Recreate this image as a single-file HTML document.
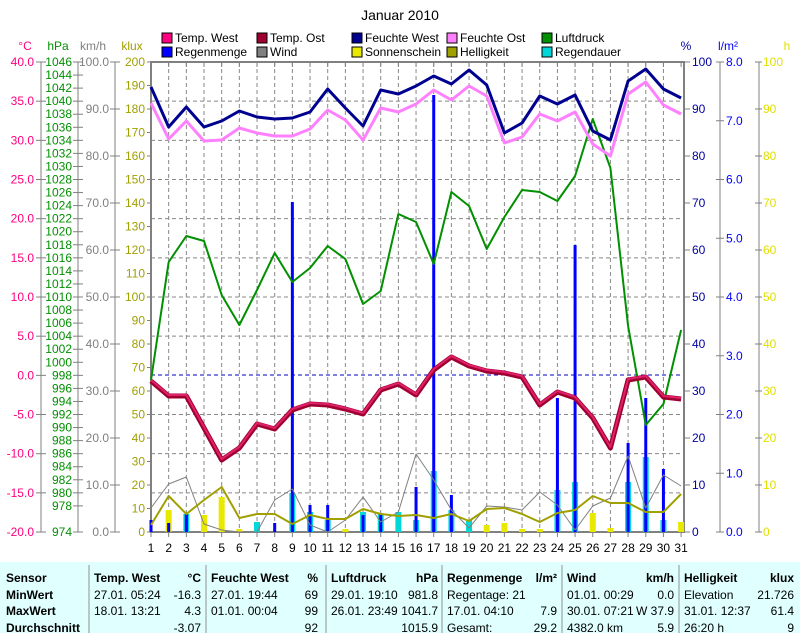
<!DOCTYPE html>
<html><head><meta charset="utf-8">
<style>
html,body{margin:0;padding:0;background:#fff;width:800px;height:633px;overflow:hidden}
svg{display:block;font-family:"Liberation Sans",sans-serif}
</style></head><body>
<svg id="s" width="800" height="633" xmlns="http://www.w3.org/2000/svg"></svg>
<script>
const S=document.getElementById('s');let h='';
const X=d=>151+(d-1)*17.67;
const T=(x,y,t,c,a,sz,w)=>`<text x="${x}" y="${y}" fill="${c}" font-size="${sz||12}" text-anchor="${a||'start'}"${w?` font-weight="${w}"`:''}>${t}</text>`;
h+=T(400,20,'Januar 2010','#000','middle',14);
for(let d=2;d<=30;d++)h+=`<line x1="${X(d)}" y1="62" x2="${X(d)}" y2="532" stroke="#888" stroke-dasharray="4,3"/>`;
for(let k=1;k<12;k++){const y=62+k*470/12;if(k==8)continue;h+=`<line x1="151" y1="${y}" x2="684" y2="${y}" stroke="#888" stroke-dasharray="4,3"/>`;}
h+=`<line x1="151" y1="375" x2="684" y2="375" stroke="#0000c0" stroke-dasharray="4,3"/>`;
h+=`<rect x="151" y="62" width="533" height="470" fill="none" stroke="#808080" stroke-width="2"/>`;
for(let d=1;d<=31;d++){h+=`<line x1="${X(d)}" y1="62" x2="${X(d)}" y2="67" stroke="#808080"/><line x1="${X(d)}" y1="532" x2="${X(d)}" y2="537" stroke="#808080"/>`;h+=T(X(d),552,d,'#000','middle',12);}
const ax=(x,c)=>{h+=`<line x1="${x}" y1="62" x2="${x}" y2="532" stroke="#808080"/>`};
ax(41);ax(78);ax(115);
for(let i=0;i<=12;i++){const y=62+i*39.17,v=40-i*5;h+=`<line x1="36" y1="${y}" x2="46" y2="${y}" stroke="#808080"/>`+T(34,y+4,v.toFixed(1),'#ff0080','end');}
for(let v=1046;v>=974;v-=2){if(v==976)continue;const y=62+(1046-v)*6.528;h+=`<line x1="73" y1="${y}" x2="83" y2="${y}" stroke="#808080"/>`+T(72,y+4,v,'#009000','end');}
for(let i=0;i<=10;i++){const y=62+i*47;h+=`<line x1="110" y1="${y}" x2="120" y2="${y}" stroke="#808080"/>`+T(109,y+4,(100-i*10).toFixed(1),'#808080','end');}
for(let i=0;i<=20;i++){const y=62+i*23.5;h+=`<line x1="147" y1="${y}" x2="151" y2="${y}" stroke="#808080"/>`+T(145,y+4,200-i*10,'#a0a000','end');}
h+=T(25,50,'°C','#ff0080','middle')+T(58,50,'hPa','#009000','middle')+T(93,50,'km/h','#808080','middle')+T(132,50,'klux','#a0a000','middle');
ax(720);ax(759);
for(let i=0;i<=10;i++){const y=62+i*47;h+=`<line x1="684" y1="${y}" x2="690" y2="${y}" stroke="#808080"/>`+T(692,y+4,100-i*10,'#0000a0');
h+=`<line x1="755" y1="${y}" x2="762" y2="${y}" stroke="#808080"/>`+T(763,y+4,100-i*10,'#e0e000');}
for(let i=0;i<=8;i++){const y=62+i*58.75;h+=`<line x1="716" y1="${y}" x2="724" y2="${y}" stroke="#808080"/>`+T(726,y+4,(8-i).toFixed(1),'#0000ff');}
h+=T(686,50,'%','#0000a0','middle')+T(728,50,'l/m²','#0000ff','middle')+T(787,50,'h','#e0e000','middle');
const lg=[['#ff0080','Temp. West'],['#a00030','Temp. Ost'],['#000090','Feuchte West'],['#ff80ff','Feuchte Ost'],['#009000','Luftdruck'],['#0000ff','Regenmenge'],['#808080','Wind'],['#e8e800','Sonnenschein'],['#a0a000','Helligkeit'],['#00d8d8','Regendauer']];
lg.forEach((l,i)=>{const x=162+(i%5)*95,y=i<5?33:47;h+=`<rect x="${x}" y="${y}" width="10" height="10" fill="${l[0]}" stroke="#000"/>`+T(x+13,y+9,l[1],'#000','start',12);});
const bar=(arr,c,w)=>{for(const d in arr)h+=`<rect x="${X(+d)-w/2}" y="${arr[d]}" width="${w}" height="${532-arr[d]}" fill="${c}"/>`};
bar({2:510,4:515,5:497,6:529,7:528,12:529,20:525,21:523,22:529,23:529,26:513,27:528,28:528,29:529,30:528,31:522},'#e8e800',6);
bar({3:514,7:522,9:493,10:512,11:520,13:512,14:514,15:512,16:520,17:471,18:510,19:520,24:490,25:482,28:482,29:457,30:520},'#00d8d8',6);
bar({1:520,2:523,3:514,8:523,9:202,10:505,11:505,13:515,14:514,16:487,17:95,18:495,24:398,25:245,28:443,29:398,30:469},'#0000ff',3);
const ln=(a,c,w)=>{h+=`<polyline fill="none" stroke="${c}" stroke-width="${w}" stroke-linejoin="round" points="${a.map((y,i)=>X(i+1)+','+y).join(' ')}"/>`};
ln([508,484,477,524,530,532,532,500,489,525,532,520,497,522,512,454,480,510,528,506,507,510,492,505,530,506,498,456,508,475,486],'#808080',1);
ln([525,496,514,500,487,518,514,514,524,515,519,519,509,514,516,515,518,514,521,509,508,514,522,513,510,496,503,503,512,512,494],'#a0a000',2);
ln([380,262,236,241,295,325,290,253,282,268,246,259,304,291,214,222,264,192,206,249,217,190,192,201,176,119,168,326,425,404,330],'#009000',2);
ln([103,139,121,141,140,128,133,136,136,129,110,120,140,108,112,104,90,100,86,96,143,137,114,121,112,144,156,94,82,105,114],'#ff80ff',3);
ln([87,127,107,127,121,111,117,119,118,112,89,108,126,90,94,86,76,84,70,85,133,123,96,104,95,131,140,81,69,89,98],'#000090',3);
const tp=[381,396,396,428,460,448,424,429,410,404,405,409,414,390,384,395,370,357,366,371,373,377,405,392,398,418,448,380,377,397,399];
ln(tp,'#a00030',5);ln(tp.map(y=>y-1),'#e0206a',2);
h+=`<rect x="0" y="562" width="800" height="71" fill="#e0ffff"/>`;
[89,206,326,442,562,679].forEach(x=>h+=`<line x1="${x}" y1="565" x2="${x}" y2="633" stroke="#909090"/>`);
S.innerHTML=h;
</script>
<div style="position:absolute;left:0;top:570px;width:800px;font-family:'Liberation Sans Narrow','Liberation Sans',sans-serif;font-size:12px;line-height:16.5px;color:#000">
<div style="position:absolute;left:6px;top:0;font-weight:bold">Sensor<br>MinWert<br>MaxWert<br>Durchschnitt</div>
<div style="position:absolute;left:94px;top:0;width:107px"><b>Temp. West</b><span style="float:right;font-weight:bold">°C</span><br>27.01. 05:24<span style="float:right">-16.3</span><br>18.01. 13:21<span style="float:right">4.3</span><br><span style="float:right">-3.07</span></div>
<div style="position:absolute;left:211px;top:0;width:107px"><b>Feuchte West</b><span style="float:right;font-weight:bold">%</span><br>27.01. 19:44<span style="float:right">69</span><br>01.01. 00:04<span style="float:right">99</span><br><span style="float:right">92</span></div>
<div style="position:absolute;left:331px;top:0;width:107px"><b>Luftdruck</b><span style="float:right;font-weight:bold">hPa</span><br>29.01. 19:10<span style="float:right">981.8</span><br>26.01. 23:49<span style="float:right">1041.7</span><br><span style="float:right">1015.9</span></div>
<div style="position:absolute;left:447px;top:0;width:110px"><b>Regenmenge</b><span style="float:right;font-weight:bold">l/m²</span><br>Regentage: 21<br>17.01. 04:10<span style="float:right">7.9</span><br>Gesamt:<span style="float:right">29.2</span></div>
<div style="position:absolute;left:567px;top:0;width:107px"><b>Wind</b><span style="float:right;font-weight:bold">km/h</span><br>01.01. 00:29<span style="float:right">0.0</span><br>30.01. 07:21<span style="float:right">W 37.9</span><br>4382.0 km<span style="float:right">5.9</span></div>
<div style="position:absolute;left:684px;top:0;width:110px"><b>Helligkeit</b><span style="float:right;font-weight:bold">klux</span><br>Elevation<span style="float:right">21.726</span><br>31.01. 12:37<span style="float:right">61.4</span><br>26:20 h<span style="float:right">9</span></div>
</div>
</body></html>
